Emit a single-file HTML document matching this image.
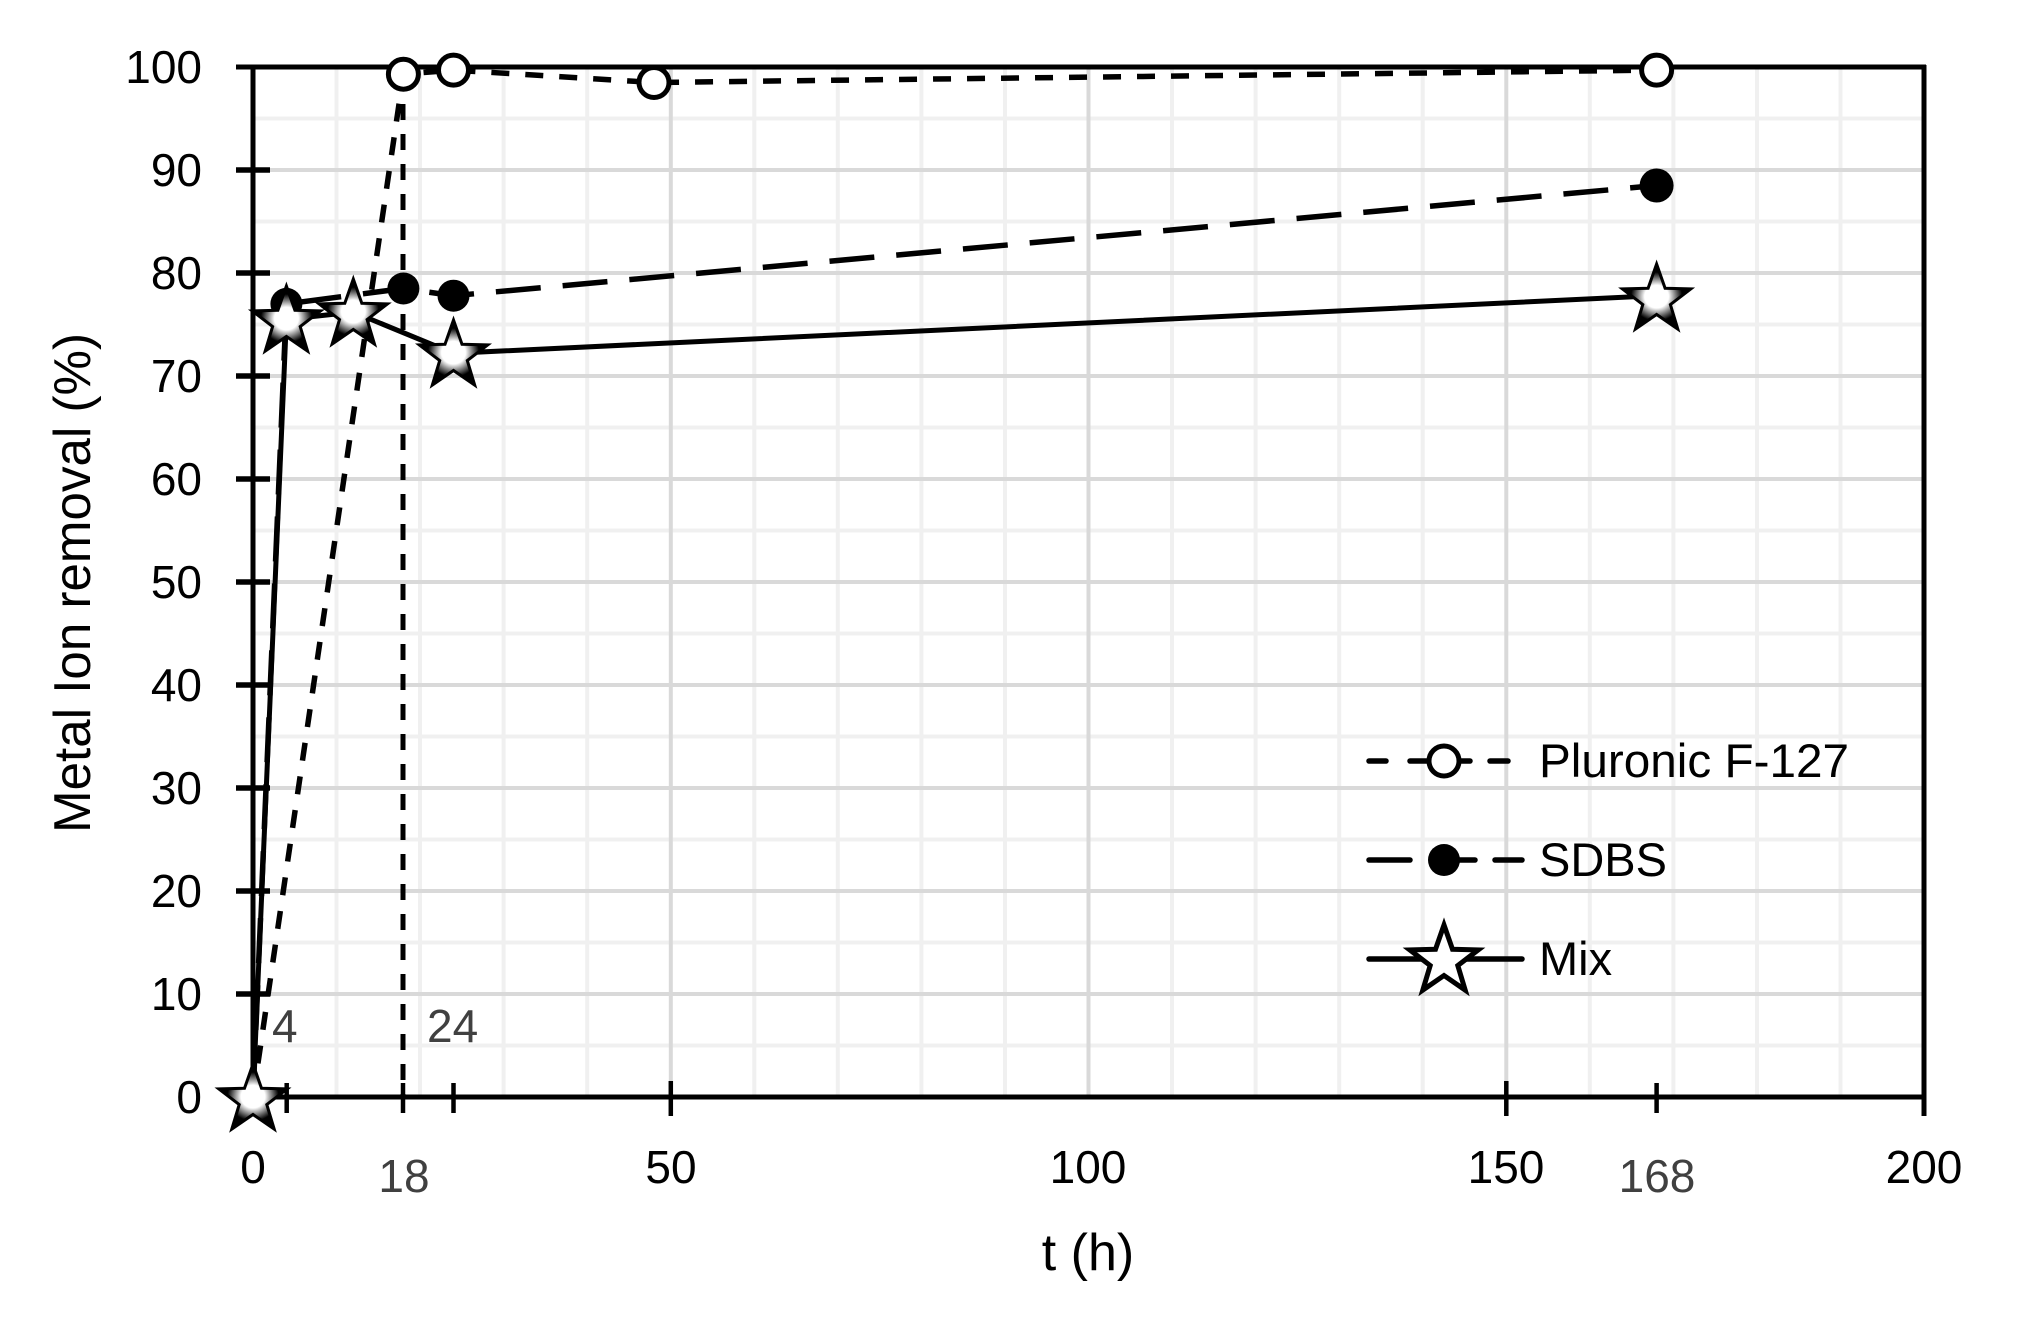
<!DOCTYPE html>
<html><head><meta charset="utf-8"><style>html,body{margin:0;padding:0;background:#fff}svg{display:block}</style></head>
<body>
<svg width="2031" height="1317" viewBox="0 0 2031 1317" xmlns="http://www.w3.org/2000/svg" font-family="Liberation Sans, sans-serif">
<defs>
<radialGradient id="sg"><stop offset="0" stop-color="#fff"/><stop offset="0.35" stop-color="#fff"/><stop offset="0.75" stop-color="#000"/></radialGradient>
<g id="star"><polygon points="0,-36 8.5,-11.7 34.2,-11.1 13.8,4.5 21.2,29.1 0,14.5 -21.2,29.1 -13.8,4.5 -34.2,-11.1 -8.5,-11.7" fill="url(#sg)" stroke="#000" stroke-width="3"/></g>
</defs>
<g stroke="#f0f0f0" stroke-width="4">
<line x1="336.5" y1="67" x2="336.5" y2="1097"/><line x1="420" y1="67" x2="420" y2="1097"/><line x1="503.6" y1="67" x2="503.6" y2="1097"/><line x1="587.2" y1="67" x2="587.2" y2="1097"/>
<line x1="754.3" y1="67" x2="754.3" y2="1097"/><line x1="837.8" y1="67" x2="837.8" y2="1097"/><line x1="921.4" y1="67" x2="921.4" y2="1097"/><line x1="1005" y1="67" x2="1005" y2="1097"/>
<line x1="1172" y1="67" x2="1172" y2="1097"/><line x1="1255.6" y1="67" x2="1255.6" y2="1097"/><line x1="1339.2" y1="67" x2="1339.2" y2="1097"/><line x1="1422.7" y1="67" x2="1422.7" y2="1097"/>
<line x1="1589.8" y1="67" x2="1589.8" y2="1097"/><line x1="1673.4" y1="67" x2="1673.4" y2="1097"/><line x1="1757" y1="67" x2="1757" y2="1097"/><line x1="1840.5" y1="67" x2="1840.5" y2="1097"/>
<line x1="253" y1="118.5" x2="1924" y2="118.5"/><line x1="253" y1="221.5" x2="1924" y2="221.5"/><line x1="253" y1="324.5" x2="1924" y2="324.5"/><line x1="253" y1="427.5" x2="1924" y2="427.5"/><line x1="253" y1="530.5" x2="1924" y2="530.5"/><line x1="253" y1="633.5" x2="1924" y2="633.5"/><line x1="253" y1="736.5" x2="1924" y2="736.5"/><line x1="253" y1="839.5" x2="1924" y2="839.5"/><line x1="253" y1="942.5" x2="1924" y2="942.5"/><line x1="253" y1="1045.5" x2="1924" y2="1045.5"/>
</g>
<g stroke="#d9d9d9" stroke-width="4">
<line x1="670.8" y1="67" x2="670.8" y2="1097"/><line x1="1088.5" y1="67" x2="1088.5" y2="1097"/><line x1="1506.3" y1="67" x2="1506.3" y2="1097"/>
<line x1="253" y1="170" x2="1924" y2="170"/><line x1="253" y1="273" x2="1924" y2="273"/><line x1="253" y1="376" x2="1924" y2="376"/><line x1="253" y1="479" x2="1924" y2="479"/><line x1="253" y1="582" x2="1924" y2="582"/><line x1="253" y1="685" x2="1924" y2="685"/><line x1="253" y1="788" x2="1924" y2="788"/><line x1="253" y1="891" x2="1924" y2="891"/><line x1="253" y1="994" x2="1924" y2="994"/>
</g>
<g stroke="#000" stroke-width="5" fill="none">
<line x1="236" y1="67" x2="1926" y2="67"/>
<line x1="253" y1="65" x2="253" y2="1099"/>
<line x1="236" y1="1097" x2="1926" y2="1097"/>
<line x1="1924" y1="65" x2="1924" y2="1116"/>
</g>
<g stroke="#000" stroke-width="5.5">
<line x1="236" y1="170" x2="270" y2="170"/><line x1="236" y1="273" x2="270" y2="273"/><line x1="236" y1="376" x2="270" y2="376"/><line x1="236" y1="479" x2="270" y2="479"/><line x1="236" y1="582" x2="270" y2="582"/><line x1="236" y1="685" x2="270" y2="685"/><line x1="236" y1="788" x2="270" y2="788"/><line x1="236" y1="891" x2="270" y2="891"/><line x1="236" y1="994" x2="270" y2="994"/>
</g>
<g stroke="#000" stroke-width="4.5">
<line x1="286.7" y1="1083" x2="286.7" y2="1113"/><line x1="403" y1="1083" x2="403" y2="1113"/><line x1="453.5" y1="1083" x2="453.5" y2="1113"/><line x1="670.8" y1="1081" x2="670.8" y2="1116"/><line x1="1506.3" y1="1081" x2="1506.3" y2="1116"/><line x1="1656.6" y1="1083" x2="1656.6" y2="1113"/>
</g>
<g font-size="46" text-anchor="end" fill="#000">
<text x="202" y="83">100</text><text x="202" y="186">90</text><text x="202" y="289">80</text><text x="202" y="392">70</text><text x="202" y="495">60</text><text x="202" y="598">50</text><text x="202" y="701">40</text><text x="202" y="804">30</text><text x="202" y="907">20</text><text x="202" y="1010">10</text><text x="202" y="1113">0</text>
</g>
<g font-size="46" text-anchor="middle" fill="#000">
<text x="253" y="1183">0</text><text x="671" y="1183">50</text><text x="1088" y="1183">100</text><text x="1506" y="1183">150</text><text x="1924" y="1183">200</text>
</g>
<g font-size="46" fill="#404040">
<text x="404" y="1192" text-anchor="middle">18</text><text x="1657" y="1192" text-anchor="middle">168</text>
<text x="272" y="1042">4</text><text x="427" y="1042">24</text>
</g>
<text x="1088" y="1270" font-size="52" text-anchor="middle">t (h)</text>
<text transform="translate(90,583) rotate(-90)" font-size="52" text-anchor="middle" textLength="500" lengthAdjust="spacingAndGlyphs">Metal Ion removal (%)</text>
<line x1="403" y1="74" x2="403" y2="1097" stroke="#000" stroke-width="5" stroke-dasharray="16,14"/>
<polyline points="253,1097 403.4,74.2 453.5,70.1 654,82.5 1656.6,70.1" fill="none" stroke="#000" stroke-width="5.5" stroke-dasharray="18,16"/>
<polyline points="253,1097 286.4,303.9 403.4,288.5 453.5,295.7 1656.6,185.5" fill="none" stroke="#000" stroke-width="5.5" stroke-dasharray="45,22"/>
<polyline points="253,1097 286.4,319.4 353.3,312.1 453.5,353.3 1656.6,295.7" fill="none" stroke="#000" stroke-width="5"/>
<g fill="#fff" stroke="#000" stroke-width="5">
<circle cx="403.4" cy="74.2" r="15"/><circle cx="453.5" cy="70.1" r="15"/><circle cx="654" cy="82.5" r="15"/><circle cx="1656.6" cy="70.1" r="15"/>
</g>
<g fill="#000">
<circle cx="286.4" cy="303.9" r="16"/><circle cx="403.4" cy="288.5" r="16"/><circle cx="453.5" cy="295.7" r="16"/><circle cx="1656.6" cy="185.5" r="17"/><circle cx="253" cy="1097" r="14"/>
</g>
<use href="#star" x="253" y="1100"/>
<use href="#star" x="286.4" y="322"/>
<use href="#star" x="353.3" y="315"/>
<use href="#star" x="453.5" y="356"/>
<use href="#star" x="1656.6" y="300"/>
<g stroke="#000" stroke-width="5.5" stroke-linecap="round">
<line x1="1369" y1="761" x2="1386" y2="761"/><line x1="1410" y1="761" x2="1470" y2="761"/><line x1="1490" y1="761" x2="1508" y2="761"/>
<line x1="1369" y1="860" x2="1410" y2="860"/><line x1="1444" y1="860" x2="1475" y2="860"/><line x1="1495" y1="860" x2="1522" y2="860"/>
<line x1="1369" y1="959" x2="1522" y2="959"/>
</g>
<circle cx="1444" cy="761" r="15" fill="#fff" stroke="#000" stroke-width="5"/>
<circle cx="1444" cy="860" r="16" fill="#000"/>
<polygon transform="translate(1444,961)" points="0,-36 8.5,-11.7 34.2,-11.1 13.8,4.5 21.2,29.1 0,14.5 -21.2,29.1 -13.8,4.5 -34.2,-11.1 -8.5,-11.7" fill="#fff" stroke="#000" stroke-width="5"/>
<g font-size="47" fill="#000">
<text x="1539" y="777" textLength="310" lengthAdjust="spacingAndGlyphs">Pluronic F-127</text>
<text x="1539" y="876">SDBS</text>
<text x="1539" y="975">Mix</text>
</g>
</svg>
</body></html>
